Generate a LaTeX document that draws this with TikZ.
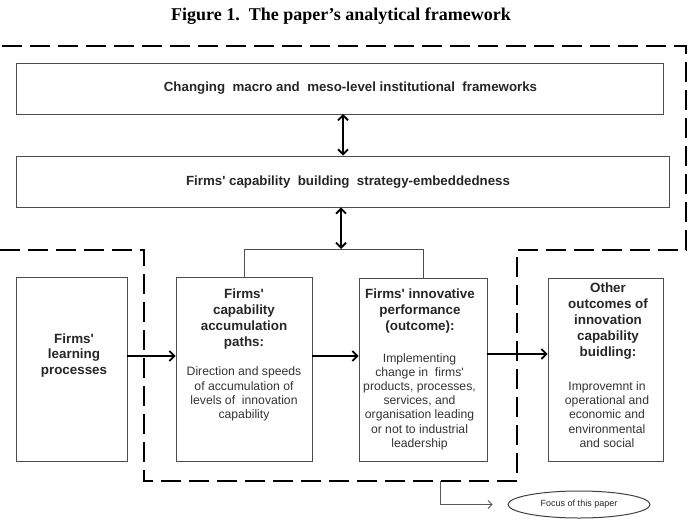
\documentclass[tikz,border=0pt]{standalone}
\usepackage{fontspec}
\setmainfont{Liberation Sans}
\newfontfamily\titlefont{Liberation Serif}
\usetikzlibrary{arrows.meta,shapes.geometric}
\begin{document}
\begin{tikzpicture}[x=1pt,y=-1pt,
  boxst/.style={draw=black!70,line width=0.9pt,inner sep=0pt},
  ttl/.style={font=\fontsize{13.4}{16}\selectfont\bfseries,align=center,inner sep=0pt,text=black!85},
  bdy/.style={font=\fontsize{12.2}{14.2}\selectfont,align=center,inner sep=0pt,text=black!80},
  toptxt/.style={font=\fontsize{13.3}{15}\selectfont\bfseries,inner sep=0pt,text=black!85},
  dbl/.style={line width=1.8pt,{Straight Barb[length=5pt,width=10pt]}-{Straight Barb[length=5pt,width=10pt]}},
  flow/.style={line width=1.8pt,-{Straight Barb[length=5pt,width=10pt]}},
  frame/.style={line width=2.2pt,dash pattern=on 20pt off 8pt},
]
\useasboundingbox (0,0) rectangle (692,519);
% title
\node[font=\titlefont\fontsize{18}{21}\selectfont\bfseries] (title) at (341,16) {Figure 1.\ \ The paper’s analytical framework};
% top boxes
\node[boxst,minimum width=647pt,minimum height=51pt] (macro) at (339.5,88.5) {};
\node[toptxt] (macroT) at (350.5,88) {Changing\ \ macro and\ \ meso-level institutional\ \ frameworks};
\node[boxst,minimum width=653pt,minimum height=51pt] (strat) at (342.5,181.5) {};
\node[toptxt] (stratT) at (348,182) {Firms\textquotesingle\ capability\ \ building\ \ strategy-embeddedness};
% lower boxes
\node[boxst,minimum width=111pt,minimum height=184pt] (learn) at (71.5,369) {};
\node[boxst,minimum width=136pt,minimum height=184pt] (accum) at (244,369) {};
\node[boxst,minimum width=128pt,minimum height=183pt] (innov) at (423,369.5) {};
\node[boxst,minimum width=115pt,minimum height=183pt] (other) at (605.5,369.5) {};
% texts
\node[ttl,font=\fontsize{13.4}{15.5}\selectfont\bfseries] (learnT) at (74,355.5) {Firms\textquotesingle\\learning\\processes};
\node[ttl] (accumT) at (244,319) {Firms\textquotesingle\\capability\\accumulation\\paths:};
\node[bdy] (accumB) at (244,394) {Direction and speeds\\of accumulation of\\levels of\ \ innovation\\capability};
\node[ttl] (innovT) at (420,311) {Firms\textquotesingle\ innovative\\performance\\(outcome):};
\node[bdy] (innovB) at (419.5,401.5) {Implementing\\change in\ \ firms\textquotesingle\\products, processes,\\services, and\\organisation leading\\or not to industrial\\leadership};
\node[ttl] (otherT) at (608,321) {Other\\outcomes of\\innovation\\capability\\buidling:};
\node[bdy] (otherB) at (607,414.5) {Improvemnt in\\operational and\\economic and\\environmental\\and social};
% focus ellipse
\node[draw=black!75,line width=1pt,ellipse,minimum width=142pt,minimum height=27pt,inner sep=0pt,font=\fontsize{9}{11}\selectfont,text=black!85] (focus) at (579,504.5) {Focus of this paper};
% dashed frame
\draw[frame] (0,250) -- (144,250) -- (144,481) -- (517,481) -- (517,250) -- (686,250) -- (686,46) -- (-4,46);
% coordinates
\coordinate (brY) at (0,249);
\coordinate (brM) at (341,249);
\coordinate (a1) at (343,114);
\coordinate (fstart) at (440,481);
% connectors
\draw[boxst] (accum.north) -- (accum.north |- brY) -- (innov.north |- brY) -- (innov.north);
\draw[dbl] (a1) -- (a1 |- strat.north);
\draw[dbl] (strat.south -| brM) -- (brM);
\draw[flow] ([yshift=13pt]learn.east) -- ([yshift=13pt]accum.west);
\draw[flow] ([yshift=13pt]accum.east) -- ([yshift=13.5pt]innov.west);
\draw[flow] ([yshift=15.5pt]innov.east) -- ([yshift=15.5pt]other.west);
\draw[draw=black!65,line width=0.8pt,-{Straight Barb[length=4pt,width=8pt]}] (fstart) |- ([xshift=-15pt]focus.west);
\end{tikzpicture}
\end{document}
